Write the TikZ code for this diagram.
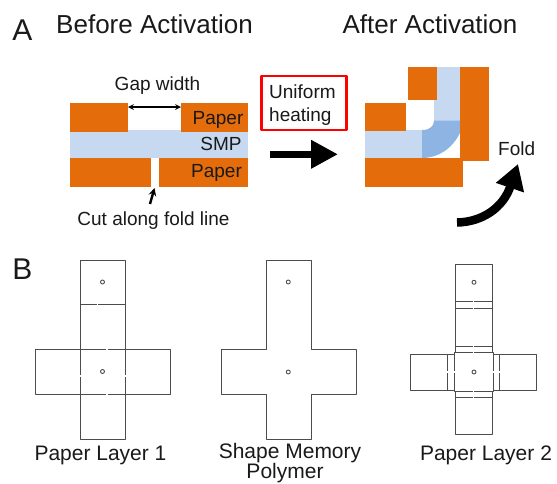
\documentclass[tikz,border=0pt]{standalone}
\usepackage{fontspec}
\setmainfont{Liberation Sans}
\usetikzlibrary{arrows.meta}
\definecolor{paperorange}{HTML}{E46C0A}
\definecolor{smplight}{HTML}{C6D9F1}
\definecolor{smpdark}{HTML}{8EB4E3}
\tikzset{
	paper/.style={fill=paperorange},
	smp/.style={fill=smplight},
	lbl/.style={anchor=base, inner sep=0pt, text=black!90, font=\fontsize{19}{19}\selectfont},
	title/.style={lbl, font=\fontsize{26}{26}\selectfont},
	panel/.style={lbl, font=\fontsize{30}{30}\selectfont},
	caption/.style={lbl, font=\fontsize{21}{21}\selectfont},
	cutline/.style={draw=black!70, line width=1pt},
	bridge/.style={draw=white, line width=1.2pt},
	hole/.style={draw=black!70, line width=.9pt, fill=white}
}
\begin{document}
\begin{tikzpicture}[x=1pt, y=-1pt, line join=round, >=stealth]
	\useasboundingbox (0,0) rectangle (557,483);
	% panel A, before
	\node[panel] (panelA) at (22.5,40.5) {A};
	\node[title] (before) at (154.5,33) {Before Activation};
	\fill[smp] (70,130) rectangle (248,158);
	\fill[paper] (70,103) rectangle (128,132);
	\fill[paper] (181,103) rectangle (248,132);
	\fill[paper] (70,158) rectangle (151,187);
	\fill[paper] (159,158) rectangle (248,187);
	\node[lbl] (gap) at (157.5,90) {Gap width};
	\node[lbl] (paperA) at (218,124) {Paper};
	\node[lbl] (smpA) at (221,150) {SMP};
	\node[lbl] (paperB) at (216.5,177) {Paper};
	\node[lbl] (cut) at (153.5,225) {Cut along fold line};
	\coordinate (gapL) at (128,107);
	\coordinate (gapR) at (181,107);
	\coordinate (cutS) at (150,204);
	\coordinate (cutE) at (154.5,188);
	\draw[<->, line width=1.6pt] (gapL)--(gapR);
	\draw[->, line width=2.4pt] (cutS)--(cutE);
	% heating
	\node[draw=red, line width=2.2pt, minimum width=85pt, minimum height=54pt, inner sep=0pt] (heatbox) at (304,103) {};
	\node[lbl, anchor=base west] (uniform) at (269,98.5) {Uniform};
	\node[lbl, anchor=base west] (heating) at (269,121.5) {heating};
	\coordinate (heatS) at (270,154.3);
	\coordinate (heatE) at (338,154.3);
	\draw[-{Triangle[length=27pt,width=27pt]}, line width=7.5pt] (heatS)--(heatE);
	% panel A, after
	\node[title] (after) at (430,33) {After Activation};
	\fill[smp] (365,130) rectangle (423,158);
	\fill[smp] (434,67) rectangle (460,121);
	\fill[smpdark] (422,130) .. controls (430,130) and (434,126) .. (434,120.5) -- (460,120.5) -- (460,133) .. controls (452,149) and (438,158) .. (422,158) -- cycle;
	\fill[paper] (365,103) rectangle (406,131);
	\fill[paper] (408,67) rectangle (437,100);
	\fill[paper] (365,158) rectangle (463,187);
	\fill[paper] (460,67) rectangle (489,161);
	\node[lbl, anchor=base west] (fold) at (498,155) {Fold};
	\coordinate (foldS) at (457,222.5);
	\coordinate (foldE) at (518,164);
	\draw[-{Triangle[length=25pt,width=28pt]}, line width=8.5pt] (foldS) .. controls (482,222) and (503,208) .. (foldE);
	% panel B, paper layer 1
	\node[panel] (panelB) at (22.5,279) {B};
	\draw[cutline] (80,260) rectangle (125,439);
	\draw[cutline] (35,349) rectangle (170,394);
	\draw[cutline] (80,304)--(125,304);
	\draw[bridge] (97.5,303)--(97.5,305);
	\foreach \y in {349,394} \draw[bridge] (107,\y-1)--(107,\y+1);
	\foreach \x in {80,125} \draw[bridge] (\x-1,376)--(\x+1,376);
	\foreach \y in {282,371.5} \draw[hole] (102.5,\y) circle (2);
	\node[caption] (layerA) at (100.5,460) {Paper Layer 1};
	% panel B, polymer
	\draw[cutline] (266,260)--(311,260)--(311,349.5)--(356,349.5)--(356,394.5)--(311,394.5)--(311,439)--(266,439)--(266,394.5)--(221,394.5)--(221,349.5)--(266,349.5)--cycle;
	\foreach \y in {282,372} \draw[hole] (288.3,\y) circle (2);
	\node[caption] (polyA) at (290,458) {Shape Memory};
	\node[caption] (polyB) at (285,478.5) {Polymer};
	% panel B, paper layer 2
	\draw[cutline] (455.7,264.5) rectangle (492,434.5);
	\draw[cutline] (410.7,354) rectangle (536.7,390);
	\draw[cutline, fill=white] (454.3,352.7) rectangle (493.3,391);
	\foreach \y in {301.3,308,346,397.7} \draw[cutline] (455.7,\y)--(492,\y);
	\foreach \x in {447.7,499.3} \draw[cutline] (\x,354)--(\x,390);
	\foreach \y in {301.3,308,346,352.7,391,397.7} \draw[bridge] (473.7,\y-1)--(473.7,\y+1);
	\foreach \x in {447.7,454.3,493.3,499.3} \draw[bridge] (\x-1,372)--(\x+1,372);
	\foreach \y in {282.3,372} \draw[hole] (474,\y) circle (2);
	\node[caption] (layerB) at (486,460) {Paper Layer 2};
\end{tikzpicture}
\end{document}
